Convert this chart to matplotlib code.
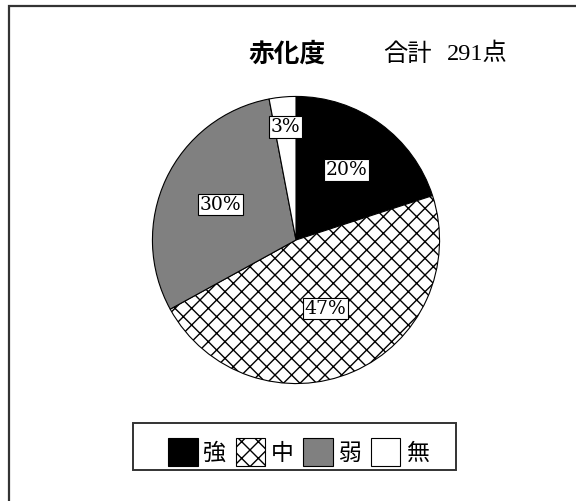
import matplotlib.pyplot as plt
import numpy as np
from matplotlib.patches import Rectangle

# 赤化度の内訳 (%), 合計 291点
labels = ['強', '中', '弱', '無']
shares = [20, 47, 30, 3]
colors = ['black', 'white', '#808080', 'white']
hatches = [None, 'xx', None, None]
total = 291

# distance of each percent label from the centre (radius units)
label_dist = [0.60, 0.52, 0.58, 0.79]

W, H = 576, 501
fig = plt.figure(figsize=(W / 100, H / 100), dpi=100)

# outer frame (only the top and left edges fall inside the image)
fig.add_artist(Rectangle((8.5 / W, -0.1), 1.2, 0.1 + (H - 5.5) / H,
                         transform=fig.transFigure, fill=False,
                         lw=1.6, ec='#333333'))

cx, cy, r = 296, 240, 145
ax = fig.add_axes([(cx - r) / W, (H - cy - r) / H, 2 * r / W, 2 * r / H])

wedges, _ = ax.pie(shares, startangle=90, counterclock=False, colors=colors,
                   wedgeprops=dict(edgecolor='black', linewidth=0.8))
for w, h in zip(wedges, hatches):
    if h:
        w.set_hatch(h)
ax.set_xlim(-1.01, 1.01)
ax.set_ylim(-1.01, 1.01)

for w, v, d in zip(wedges, shares, label_dist):
    ang = np.deg2rad((w.theta1 + w.theta2) / 2)
    ax.text(d * np.cos(ang), d * np.sin(ang), f'{v}%',
            ha='center', va='center', fontsize=13.5, family='DejaVu Serif',
            bbox=dict(boxstyle='square,pad=0.1', fc='white', ec='black', lw=0.8))

# title line
fig.text(248 / W, 1 - 54 / H, '赤化度', ha='left', va='center', fontsize=18.5,
         fontweight='bold', family=['Noto Sans CJK JP', 'DejaVu Sans'])
fig.text(383 / W, 1 - 54 / H, '合計', ha='left', va='center', fontsize=17.5,
         family=['Noto Sans CJK JP', 'DejaVu Sans'])
fig.text(447 / W, 1 - 54 / H, f'{total}点', ha='left', va='center', fontsize=17.5,
         family=['Liberation Serif', 'Noto Sans CJK JP'])

# legend
fig.add_artist(Rectangle((133 / W, 1 - 470 / H), (456 - 133) / W, 47 / H,
                         transform=fig.transFigure, fill=False,
                         lw=1.4, ec='#333333'))
fig.legend(wedges, labels, ncol=4, loc='center',
           bbox_to_anchor=(298.5 / W, 1 - 452 / H), frameon=False,
           prop=dict(family=['Noto Sans CJK JP', 'DejaVu Sans'], size=16.5),
           handlelength=1.3, handleheight=1.55, handletextpad=0.25,
           columnspacing=0.4)

fig.savefig('out.png', dpi=100, facecolor='white')
